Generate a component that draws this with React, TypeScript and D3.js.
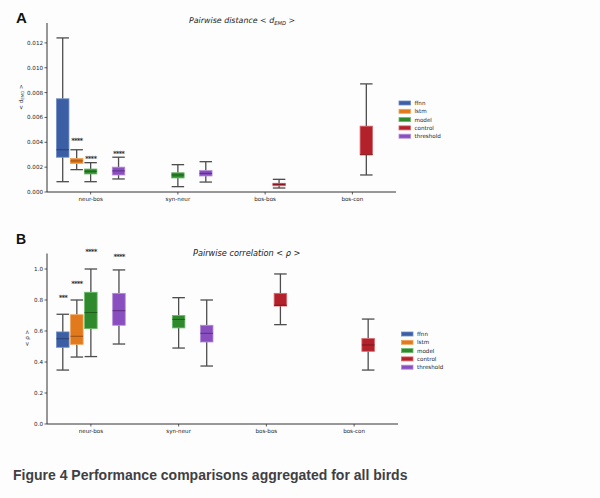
import React from "react";
import * as d3 from "d3";

const categories = ["neur-bos", "syn-neur", "bos-bos", "bos-con"];
const hues = ["ffnn", "lstm", "model", "control", "threshold"];
const hueFill = ["#3b5ea4", "#e07a1c", "#2f8a2d", "#b3222a", "#8a4fbf"];
const hueEdge = ["#6e8cc4", "#f0a25a", "#6cb86a", "#d8676d", "#b48ad9"];
const hueMedian = ["#27406f", "#9a4f0e", "#1d5c1c", "#7a151b", "#5a2f82"];

// [category, hue, whiskerLow, q1, median, q3, whiskerHigh]
const distanceStats: [number, number, number, number, number, number, number][] = [
  [0, 0, 0.00083, 0.0028, 0.0034, 0.0075, 0.0124],
  [0, 1, 0.0018, 0.0023, 0.0025, 0.0027, 0.0034],
  [0, 2, 0.00083, 0.00145, 0.00167, 0.00185, 0.00236],
  [0, 4, 0.00105, 0.00137, 0.0017, 0.002, 0.0028],
  [1, 2, 0.00043, 0.00113, 0.00137, 0.00155, 0.0022],
  [1, 4, 0.0008, 0.00129, 0.0015, 0.00172, 0.00244],
  [2, 3, 0.00032, 0.0005, 0.00062, 0.0007, 0.00102],
  [3, 3, 0.00137, 0.003, 0.003, 0.0053, 0.0087],
];
const correlationStats: [number, number, number, number, number, number, number][] = [
  [0, 0, 0.348, 0.495, 0.55, 0.594, 0.708],
  [0, 1, 0.432, 0.514, 0.566, 0.705, 0.8],
  [0, 2, 0.435, 0.615, 0.719, 0.85, 1.0],
  [0, 4, 0.516, 0.637, 0.731, 0.843, 0.994],
  [1, 2, 0.49, 0.62, 0.675, 0.7, 0.815],
  [1, 4, 0.374, 0.529, 0.585, 0.637, 0.8],
  [2, 3, 0.641, 0.761, 0.766, 0.843, 0.968],
  [3, 3, 0.348, 0.469, 0.51, 0.551, 0.677],
];
// [category, hue, y, label]
const distanceStars: [number, number, number, string][] = [
  [0, 1, 0.0042, "****"],
  [0, 2, 0.0028, "****"],
  [0, 4, 0.0032, "****"],
];
const correlationStars: [number, number, number, string][] = [
  [0, 0, 0.82, "***"],
  [0, 1, 0.916, "****"],
  [0, 2, 1.12, "****"],
  [0, 4, 1.09, "****"],
];
const distanceTicks = [0, 0.002, 0.004, 0.006, 0.008, 0.01, 0.012];
const correlationTicks = [0, 0.2, 0.4, 0.6, 0.8, 1.0];

type Stat = [number, number, number, number, number, number, number];

function Panel(props: {
  x0: number; x1: number; yBottom: number; yTop: number; yMax: number;
  stats: Stat[]; stars: [number, number, number, string][]; ticks: number[];
  fmt: (v: number) => string; legendX: number; legendY: number;
}) {
  const { x0, x1, yBottom, yTop, yMax, stats, stars, ticks, fmt, legendX, legendY } = props;
  const x = d3.scaleLinear().domain([-0.5, 3.5]).range([x0, x1]);
  const y = d3.scaleLinear().domain([0, yMax]).range([yBottom, yTop]);
  const unit = x(1) - x(0);
  const offset = (h: number) => (h - 2) * 0.16;
  const bw = 0.143 * unit;
  const cap = bw * 0.5;
  const font = "DejaVu Sans, sans-serif";
  return (
    <g>
      <line x1={x0} x2={x0} y1={yTop} y2={yBottom} stroke="#333" strokeWidth={1} />
      <line x1={x0} x2={x1} y1={yBottom} y2={yBottom} stroke="#333" strokeWidth={1} />
      {ticks.map((t) => (
        <g key={t}>
          <line x1={x0 - 2.5} x2={x0} y1={y(t)} y2={y(t)} stroke="#333" strokeWidth={0.8} />
          <text x={x0 - 4} y={y(t)} dy="0.35em" textAnchor="end" fontSize={5.6} fontFamily={font} fill="#222">
            {fmt(t)}
          </text>
        </g>
      ))}
      {categories.map((c, i) => (
        <g key={c}>
          <line x1={x(i)} x2={x(i)} y1={yBottom} y2={yBottom + 2.5} stroke="#333" strokeWidth={0.8} />
          <text x={x(i)} y={yBottom + 9} textAnchor="middle" fontSize={5.6} fontFamily={font} fill="#222">
            {c}
          </text>
        </g>
      ))}
      {stats.map(([c, h, lo, q1, med, q3, hi], k) => {
        const cx = x(c + offset(h));
        return (
          <g key={k}>
            <line x1={cx} x2={cx} y1={y(lo)} y2={y(q1)} stroke="#4d4d4d" strokeWidth={1.3} />
            <line x1={cx} x2={cx} y1={y(q3)} y2={y(hi)} stroke="#4d4d4d" strokeWidth={1.3} />
            <line x1={cx - cap} x2={cx + cap} y1={y(lo)} y2={y(lo)} stroke="#4d4d4d" strokeWidth={1.3} />
            <line x1={cx - cap} x2={cx + cap} y1={y(hi)} y2={y(hi)} stroke="#4d4d4d" strokeWidth={1.3} />
            <rect x={cx - bw / 2} y={y(q3)} width={bw} height={Math.max(0.5, y(q1) - y(q3))}
              fill={hueFill[h]} stroke={hueEdge[h]} strokeWidth={0.8} />
            <line x1={cx - bw / 2} x2={cx + bw / 2} y1={y(med)} y2={y(med)} stroke={hueMedian[h]} strokeWidth={1} />
          </g>
        );
      })}
      {stars.map(([c, h, v, s], k) => (
        <text key={k} x={x(c + offset(h))} y={y(v)} dy="0.5em" textAnchor="middle" fontSize={7}
          fontWeight="bold" fontFamily={font} fill="#333" letterSpacing={-0.9}>
          {s}
        </text>
      ))}
      {hues.map((hname, i) => (
        <g key={hname}>
          <rect x={legendX} y={legendY + i * 8.3 - 2} width={11.5} height={4} fill={hueFill[i]} stroke={hueEdge[i]} strokeWidth={0.8} />
          <text x={legendX + 15.5} y={legendY + i * 8.3} dy="0.35em" fontSize={5.6} fontFamily={font} fill="#222">
            {hname}
          </text>
        </g>
      ))}
    </g>
  );
}

export default function App() {
  const font = "DejaVu Sans, sans-serif";
  return (
    <svg width={600} height={498} style={{ position: "absolute", left: 0, top: 0, background: "#fdfdfe" }}>
      <rect width={600} height={498} fill="#fdfdfe" />
      <text x={16} y={22.5} fontSize={15} fontWeight="bold" fontFamily="Liberation Sans, Arial, sans-serif" fill="#111">A</text>
      <text x={16} y={244} fontSize={14} fontWeight="bold" fontFamily="Liberation Sans, Arial, sans-serif" fill="#111">B</text>
      <text x={189} y={22.5} fontSize={7.9} fontStyle="italic" fontFamily={font} fill="#222">
        Pairwise distance  &lt; d<tspan fontSize={5.2} dy={2}>EMD</tspan><tspan dy={-2}> &gt;</tspan>
      </text>
      <text x={193} y={256} fontSize={8.2} fontStyle="italic" fontFamily={font} fill="#222">
        Pairwise correlation &lt; ρ &gt;
      </text>
      <text transform="translate(23,97) rotate(-90)" textAnchor="middle" fontSize={5.6} fontFamily={font} fill="#222">
        &lt; d<tspan fontSize={4} dy={1}>EMD</tspan><tspan dy={-1}> &gt;</tspan>
      </text>
      <text transform="translate(29,338) rotate(-90)" textAnchor="middle" fontSize={5.6} fontFamily={font} fill="#222">
        &lt; ρ &gt;
      </text>
      <Panel x0={47} x1={396} yBottom={192} yTop={23} yMax={0.0136} stats={distanceStats} stars={distanceStars}
        ticks={distanceTicks} fmt={d3.format(".3f")} legendX={399} legendY={103} />
      <Panel x0={47} x1={398} yBottom={424} yTop={253.5} yMax={1.1} stats={correlationStats} stars={correlationStars}
        ticks={correlationTicks} fmt={d3.format(".1f")} legendX={401.5} legendY={334} />
      <text x={13} y={480} fontSize={14} fontWeight="bold" fontFamily="Liberation Sans, Arial, sans-serif" fill="#3f3f44">
        Figure 4 Performance comparisons aggregated for all birds
      </text>
    </svg>
  );
}
